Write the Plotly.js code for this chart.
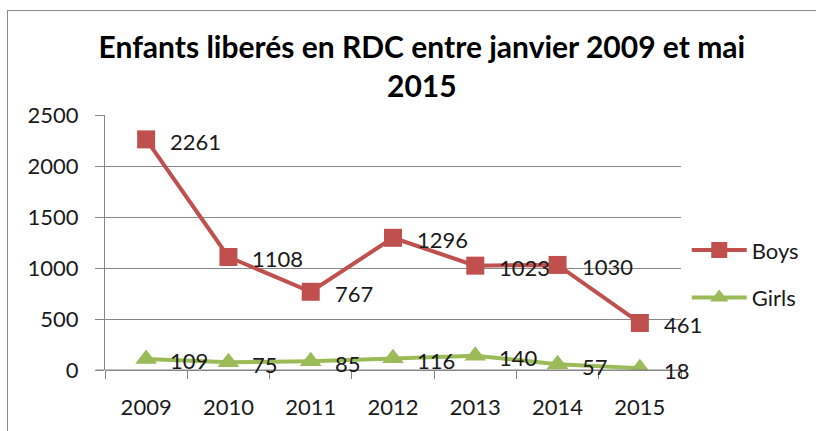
<!DOCTYPE html>
<html><head><meta charset="utf-8">
<script src="https://cdn.plot.ly/plotly-3.0.1.min.js"></script>
<style>
html,body{margin:0;padding:0;background:#fff;overflow:hidden}
#frame{position:absolute;left:7px;top:10px;width:820px;height:440px;border:1.5px solid #8c8c8c;box-sizing:border-box}
#chart{position:absolute;left:0;top:0;width:816px;height:431px}
</style>
</head><body>
<div id="frame"></div>
<div id="chart"></div>
<script>
const years = ['2009','2010','2011','2012','2013','2014','2015'];
const boys = [2261,1108,767,1296,1023,1030,461];
const girls = [109,75,85,116,140,57,18];
const yTicks = [0,500,1000,1500,2000,2500];
const font = 'Lato, "Open Sans", sans-serif';
const txtColor = '#1a1a1a';

const traces = [
  {x: years, y: boys, name: 'Boys', legendgroup: 'b', type: 'scatter', mode: 'lines+markers',
   line: {color: '#C0504D', width: 4},
   marker: {symbol: 'square', size: 18, color: '#C0504D'}},
  {x: years, y: girls, name: 'Girls', legendgroup: 'g', type: 'scatter', mode: 'lines+markers',
   line: {color: '#9BBB59', width: 4},
   marker: {symbol: 'triangle-up', size: 19, color: '#9BBB59'}}
];

// data labels: x given as category index so the category axis places them
function labels(vals) {
  return years.map((yr, i) => ({
    x: i, y: vals[i], xref: 'x', yref: 'y', text: String(vals[i]),
    showarrow: false, xanchor: 'left', yanchor: 'middle', xshift: 22, yshift: -2,
    font: {family: font, size: 22, color: txtColor}
  }));
}

const layout = {
  width: 816, height: 431,
  paper_bgcolor: 'rgba(0,0,0,0)', plot_bgcolor: 'rgba(0,0,0,0)',
  margin: {l: 105, r: 130, t: 115, b: 61},
  title: {text: '<b>Enfants liberés en RDC entre janvier 2009 et mai<br>2015</b>',
          font: {family: font, size: 30, color: '#000'},
          x: 0.517, xanchor: 'center', y: 0.865, yanchor: 'top'},
  font: {family: font, size: 22, color: txtColor},
  xaxis: {type: 'category', range: [-0.5, 6.5], tickvals: years,
          showline: false, showgrid: false, zeroline: false,
          ticks: 'outside', tickson: 'boundaries', ticklen: 8, tickcolor: '#868686',
          ticklabelstandoff: 22, tickfont: {family: font, size: 22, color: txtColor}},
  yaxis: {range: [0, 2500], tickvals: yTicks, ticktext: yTicks.map(String),
          showline: true, linecolor: '#868686', linewidth: 1,
          showgrid: true, gridcolor: '#868686', gridwidth: 1,
          zeroline: true, zerolinecolor: '#868686', zerolinewidth: 1,
          ticks: 'outside', ticklen: 9, tickcolor: '#868686',
          ticklabelstandoff: 12, tickfont: {family: font, size: 22, color: txtColor}},
  showlegend: true,
  legend: {x: 1.01, xanchor: 'left', y: 0.376, yanchor: 'middle',
           itemwidth: 55, tracegroupgap: 16, traceorder: 'grouped',
           font: {family: font, size: 22, color: txtColor}, bgcolor: 'rgba(0,0,0,0)'},
  annotations: labels(boys).concat(labels(girls)),
  shapes: [{type: 'line', xref: 'paper', yref: 'y', x0: -0.016, x1: 1, y0: 0, y1: 0,
            line: {color: '#868686', width: 1}}]
};

Plotly.newPlot('chart', traces, layout, {displayModeBar: false, staticPlot: true});
</script>
</body></html>
